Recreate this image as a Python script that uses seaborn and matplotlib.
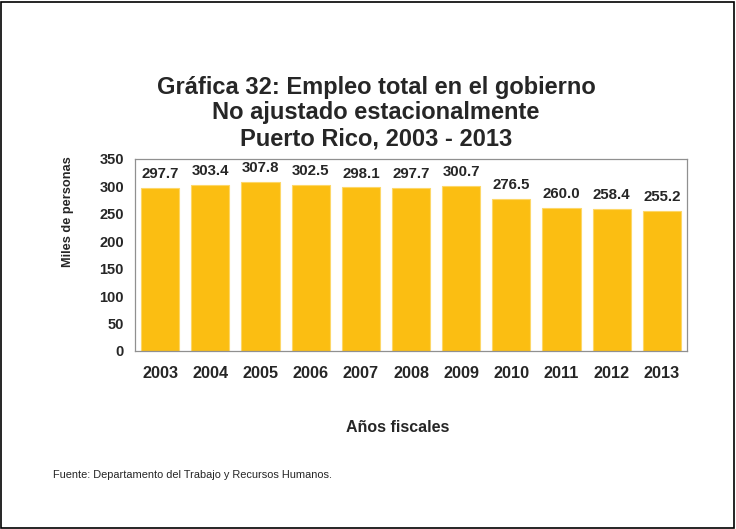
import numpy as np
import pandas as pd
import matplotlib
matplotlib.use("Agg")
import matplotlib.pyplot as plt
import seaborn as sns

# %% Datos
years = ["2003", "2004", "2005", "2006", "2007", "2008", "2009", "2010", "2011", "2012", "2013"]
empleo = [297.7, 303.4, 307.8, 302.5, 298.1, 297.7, 300.7, 276.5, 260.0, 258.4, 255.2]

df = pd.DataFrame({"year": years, "empleo": empleo})

sns.set_theme(style="white")
plt.rcParams["font.family"] = ["Liberation Sans", "DejaVu Sans"]

# %% Figura
fig = plt.figure(figsize=(7.36, 5.29), dpi=100)
ax = fig.add_axes([135 / 736, 1 - 351 / 529, (687 - 135) / 736, (351 - 159) / 529])

sns.barplot(data=df, x="year", y="empleo", color="#FBBE12", saturation=1,
            width=0.76, edgecolor="#FDD768", linewidth=0.8, ax=ax)

for i, v in enumerate(empleo):
    ax.annotate(f"{v:.1f}", (i, v), xytext=(0, 5), textcoords="offset points",
                ha="center", va="bottom", fontsize=10.8, fontweight="bold", color="#262626")

ax.set_ylim(0, 350)
ax.set_xlim(-0.5, len(years) - 0.5)
ax.set_yticks(np.arange(0, 351, 50))
ax.set_xticks(np.arange(-0.5, len(years), 1), minor=True)
ax.tick_params(axis="x", which="major", length=0, pad=11, labelsize=11.7)
ax.tick_params(axis="x", which="minor", length=5, width=0.8, color="#909090", direction="out")
ax.tick_params(axis="y", length=4, width=0.8, color="#909090", direction="out", pad=4, labelsize=10.5)
for lab in ax.get_xticklabels() + ax.get_yticklabels():
    lab.set_fontweight("bold")
    lab.set_color("#262626")

for s in ax.spines.values():
    s.set_color("#909090")
    s.set_linewidth(0.9)

ax.set_xlabel("")
ax.set_ylabel("")

fig.text(68 / 736, 1 - 212 / 529, "Miles de personas", rotation=90, ha="center", va="center",
         fontsize=9.2, fontweight="bold", color="#262626")
fig.text(376 / 736, 1 - 113 / 529,
         "Gráfica 32: Empleo total en el gobierno\nNo ajustado estacionalmente\nPuerto Rico, 2003 - 2013",
         ha="center", va="center", fontsize=17, fontweight="bold", color="#262626", linespacing=1.16)
fig.text(398 / 736, 1 - 428 / 529, "Años fiscales", ha="center", va="center",
         fontsize=11.5, fontweight="bold", color="#262626")
fig.text(53 / 736, 1 - 475 / 529, "Fuente: Departamento del Trabajo y Recursos Humanos.",
         ha="left", va="center", fontsize=7.9, color="#262626")

# marco exterior
fig.patches.append(plt.Rectangle((0.002, 0.002), 0.995, 0.995, transform=fig.transFigure,
                                 fill=False, edgecolor="black", linewidth=1.2))

fig.savefig("out.png", dpi=100)
